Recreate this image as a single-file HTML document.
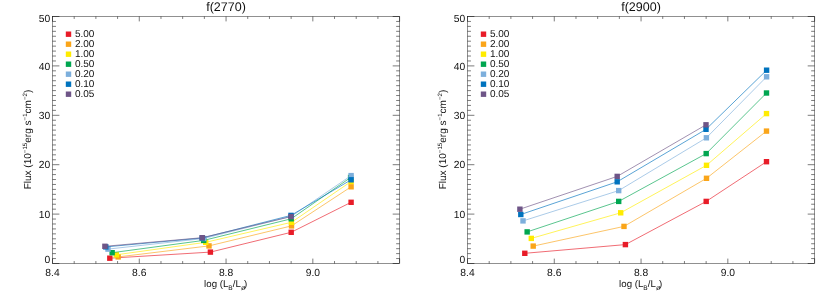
<!DOCTYPE html>
<html><head><meta charset="utf-8"><title>Flux plots</title>
<style>
html,body{margin:0;padding:0;background:#fff;}
body{width:830px;height:297px;overflow:hidden;font-family:"Liberation Sans",sans-serif;}
svg{display:block;will-change:transform;}
text{text-rendering:geometricPrecision;}
</style></head>
<body>
<svg width="830" height="297" viewBox="0 0 830 297">
<rect width="830" height="297" fill="#fff"/>
<g transform="translate(0 0)">
<text x="226.0" y="11.4" font-size="12.5" text-anchor="middle" font-family="Liberation Sans, sans-serif" fill="#111">f(2770)</text>
<rect x="52.50" y="16.50" width="347.10" height="247.00" stroke="#000" stroke-width="0.43" fill="none"/>
<path d="M52.50 263.50v-4.90M52.50 16.50v4.90M74.19 263.50v-2.45M74.19 16.50v2.45M95.89 263.50v-2.45M95.89 16.50v2.45M117.58 263.50v-2.45M117.58 16.50v2.45M139.27 263.50v-4.90M139.27 16.50v4.90M160.97 263.50v-2.45M160.97 16.50v2.45M182.66 263.50v-2.45M182.66 16.50v2.45M204.36 263.50v-2.45M204.36 16.50v2.45M226.05 263.50v-4.90M226.05 16.50v4.90M247.74 263.50v-2.45M247.74 16.50v2.45M269.44 263.50v-2.45M269.44 16.50v2.45M291.13 263.50v-2.45M291.13 16.50v2.45M312.83 263.50v-4.90M312.83 16.50v4.90M334.52 263.50v-2.45M334.52 16.50v2.45M356.21 263.50v-2.45M356.21 16.50v2.45M377.91 263.50v-2.45M377.91 16.50v2.45M399.60 263.50v-4.90M399.60 16.50v4.90M52.50 263.50h6.90M399.60 263.50h-6.90M52.50 258.56h3.45M399.60 258.56h-3.45M52.50 253.62h3.45M399.60 253.62h-3.45M52.50 248.68h3.45M399.60 248.68h-3.45M52.50 243.74h3.45M399.60 243.74h-3.45M52.50 238.80h3.45M399.60 238.80h-3.45M52.50 233.86h3.45M399.60 233.86h-3.45M52.50 228.92h3.45M399.60 228.92h-3.45M52.50 223.98h3.45M399.60 223.98h-3.45M52.50 219.04h3.45M399.60 219.04h-3.45M52.50 214.10h6.90M399.60 214.10h-6.90M52.50 209.16h3.45M399.60 209.16h-3.45M52.50 204.22h3.45M399.60 204.22h-3.45M52.50 199.28h3.45M399.60 199.28h-3.45M52.50 194.34h3.45M399.60 194.34h-3.45M52.50 189.40h3.45M399.60 189.40h-3.45M52.50 184.46h3.45M399.60 184.46h-3.45M52.50 179.52h3.45M399.60 179.52h-3.45M52.50 174.58h3.45M399.60 174.58h-3.45M52.50 169.64h3.45M399.60 169.64h-3.45M52.50 164.70h6.90M399.60 164.70h-6.90M52.50 159.76h3.45M399.60 159.76h-3.45M52.50 154.82h3.45M399.60 154.82h-3.45M52.50 149.88h3.45M399.60 149.88h-3.45M52.50 144.94h3.45M399.60 144.94h-3.45M52.50 140.00h3.45M399.60 140.00h-3.45M52.50 135.06h3.45M399.60 135.06h-3.45M52.50 130.12h3.45M399.60 130.12h-3.45M52.50 125.18h3.45M399.60 125.18h-3.45M52.50 120.24h3.45M399.60 120.24h-3.45M52.50 115.30h6.90M399.60 115.30h-6.90M52.50 110.36h3.45M399.60 110.36h-3.45M52.50 105.42h3.45M399.60 105.42h-3.45M52.50 100.48h3.45M399.60 100.48h-3.45M52.50 95.54h3.45M399.60 95.54h-3.45M52.50 90.60h3.45M399.60 90.60h-3.45M52.50 85.66h3.45M399.60 85.66h-3.45M52.50 80.72h3.45M399.60 80.72h-3.45M52.50 75.78h3.45M399.60 75.78h-3.45M52.50 70.84h3.45M399.60 70.84h-3.45M52.50 65.90h6.90M399.60 65.90h-6.90M52.50 60.96h3.45M399.60 60.96h-3.45M52.50 56.02h3.45M399.60 56.02h-3.45M52.50 51.08h3.45M399.60 51.08h-3.45M52.50 46.14h3.45M399.60 46.14h-3.45M52.50 41.20h3.45M399.60 41.20h-3.45M52.50 36.26h3.45M399.60 36.26h-3.45M52.50 31.32h3.45M399.60 31.32h-3.45M52.50 26.38h3.45M399.60 26.38h-3.45M52.50 21.44h3.45M399.60 21.44h-3.45M52.50 16.50h6.90M399.60 16.50h-6.90" stroke="#000" stroke-width="0.52" fill="none"/>
<text x="52.50" y="276.0" font-size="10.3" text-anchor="middle" font-family="Liberation Sans, sans-serif" fill="#111">8.4</text>
<text x="139.27" y="276.0" font-size="10.3" text-anchor="middle" font-family="Liberation Sans, sans-serif" fill="#111">8.6</text>
<text x="226.05" y="276.0" font-size="10.3" text-anchor="middle" font-family="Liberation Sans, sans-serif" fill="#111">8.8</text>
<text x="312.83" y="276.0" font-size="10.3" text-anchor="middle" font-family="Liberation Sans, sans-serif" fill="#111">9.0</text>
<text x="50.3" y="263.40" font-size="10.3" text-anchor="end" font-family="Liberation Sans, sans-serif" fill="#111">0</text>
<text x="50.3" y="217.80" font-size="10.3" text-anchor="end" font-family="Liberation Sans, sans-serif" fill="#111">10</text>
<text x="50.3" y="168.40" font-size="10.3" text-anchor="end" font-family="Liberation Sans, sans-serif" fill="#111">20</text>
<text x="50.3" y="119.00" font-size="10.3" text-anchor="end" font-family="Liberation Sans, sans-serif" fill="#111">30</text>
<text x="50.3" y="69.60" font-size="10.3" text-anchor="end" font-family="Liberation Sans, sans-serif" fill="#111">40</text>
<text x="50.3" y="22.35" font-size="10.3" text-anchor="end" font-family="Liberation Sans, sans-serif" fill="#111">50</text>
<text x="225.7" y="286.5" font-size="9.7" text-anchor="middle" font-family="Liberation Sans, sans-serif" fill="#111">log (L<tspan font-size="6.6" dy="3.0">B</tspan><tspan dy="-3.0">/L</tspan><tspan font-size="7.2" dy="3.0" dx="0.2">ø</tspan><tspan dy="-3.0" dx="-1.4">)</tspan></text>
<text transform="translate(31.2 139.5) rotate(-90)" font-size="10" text-anchor="middle" font-family="Liberation Sans, sans-serif" fill="#111">Flux (10<tspan font-size="6.2" dy="-4.1">−15</tspan><tspan dy="4.1">erg s</tspan><tspan font-size="6.2" dy="-4.1">−1</tspan><tspan dy="4.1">cm</tspan><tspan font-size="6.2" dy="-4.1">−2</tspan><tspan dy="4.1">)</tspan></text>
<rect x="65.80" y="31.50" width="5.4" height="5.4" fill="#E81C28"/>
<text x="74.9" y="36.60" font-size="10" font-family="Liberation Sans, sans-serif" fill="#111">5.00</text>
<rect x="65.80" y="41.50" width="5.4" height="5.4" fill="#FAA519"/>
<text x="74.9" y="46.60" font-size="10" font-family="Liberation Sans, sans-serif" fill="#111">2.00</text>
<rect x="65.80" y="51.50" width="5.4" height="5.4" fill="#FFEC00"/>
<text x="74.9" y="56.60" font-size="10" font-family="Liberation Sans, sans-serif" fill="#111">1.00</text>
<rect x="65.80" y="61.50" width="5.4" height="5.4" fill="#00A650"/>
<text x="74.9" y="66.60" font-size="10" font-family="Liberation Sans, sans-serif" fill="#111">0.50</text>
<rect x="65.80" y="71.50" width="5.4" height="5.4" fill="#7DAFDC"/>
<text x="74.9" y="76.60" font-size="10" font-family="Liberation Sans, sans-serif" fill="#111">0.20</text>
<rect x="65.80" y="81.50" width="5.4" height="5.4" fill="#0073BE"/>
<text x="74.9" y="86.60" font-size="10" font-family="Liberation Sans, sans-serif" fill="#111">0.10</text>
<rect x="65.80" y="91.50" width="5.4" height="5.4" fill="#6E5587"/>
<text x="74.9" y="96.60" font-size="10" font-family="Liberation Sans, sans-serif" fill="#111">0.05</text>
<polyline points="109.80,258.20 210.40,252.10 291.20,232.30 351.10,202.30" fill="none" stroke="#E81C28" stroke-width="0.65"/>
<rect x="107.10" y="255.50" width="5.4" height="5.4" fill="#E81C28"/>
<rect x="207.70" y="249.40" width="5.4" height="5.4" fill="#E81C28"/>
<rect x="288.50" y="229.60" width="5.4" height="5.4" fill="#E81C28"/>
<rect x="348.40" y="199.60" width="5.4" height="5.4" fill="#E81C28"/>
<polyline points="118.20,256.90 209.00,245.90 291.50,225.90 351.10,186.80" fill="none" stroke="#FAA519" stroke-width="0.65"/>
<rect x="115.50" y="254.20" width="5.4" height="5.4" fill="#FAA519"/>
<rect x="206.30" y="243.20" width="5.4" height="5.4" fill="#FAA519"/>
<rect x="288.80" y="223.20" width="5.4" height="5.4" fill="#FAA519"/>
<rect x="348.40" y="184.10" width="5.4" height="5.4" fill="#FAA519"/>
<polyline points="116.30,254.80 205.70,242.30 291.50,222.30 351.10,181.50" fill="none" stroke="#FFEC00" stroke-width="0.65"/>
<rect x="113.60" y="252.10" width="5.4" height="5.4" fill="#FFEC00"/>
<rect x="203.00" y="239.60" width="5.4" height="5.4" fill="#FFEC00"/>
<rect x="288.80" y="219.60" width="5.4" height="5.4" fill="#FFEC00"/>
<rect x="348.40" y="178.80" width="5.4" height="5.4" fill="#FFEC00"/>
<polyline points="112.15,252.70 203.70,240.40 291.20,218.80 350.60,177.50" fill="none" stroke="#00A650" stroke-width="0.65"/>
<rect x="109.45" y="250.00" width="5.4" height="5.4" fill="#00A650"/>
<rect x="201.00" y="237.70" width="5.4" height="5.4" fill="#00A650"/>
<rect x="288.50" y="216.10" width="5.4" height="5.4" fill="#00A650"/>
<rect x="347.90" y="174.80" width="5.4" height="5.4" fill="#00A650"/>
<polyline points="108.00,249.10 203.70,238.50 291.40,216.30 351.10,175.60" fill="none" stroke="#7DAFDC" stroke-width="0.65"/>
<rect x="105.30" y="246.40" width="5.4" height="5.4" fill="#7DAFDC"/>
<rect x="201.00" y="235.80" width="5.4" height="5.4" fill="#7DAFDC"/>
<rect x="288.70" y="213.60" width="5.4" height="5.4" fill="#7DAFDC"/>
<rect x="348.40" y="172.90" width="5.4" height="5.4" fill="#7DAFDC"/>
<polyline points="105.80,246.90 202.20,238.00 291.00,215.40 351.10,179.80" fill="none" stroke="#0073BE" stroke-width="0.65"/>
<rect x="103.10" y="244.20" width="5.4" height="5.4" fill="#0073BE"/>
<rect x="199.50" y="235.30" width="5.4" height="5.4" fill="#0073BE"/>
<rect x="288.30" y="212.70" width="5.4" height="5.4" fill="#0073BE"/>
<rect x="348.40" y="177.10" width="5.4" height="5.4" fill="#0073BE"/>
<polyline points="104.90,246.30 202.20,237.70 291.00,216.60" fill="none" stroke="#6E5587" stroke-width="0.65"/>
<rect x="102.20" y="243.60" width="5.4" height="5.4" fill="#6E5587"/>
<rect x="199.50" y="235.00" width="5.4" height="5.4" fill="#6E5587"/>
<rect x="288.30" y="213.90" width="5.4" height="5.4" fill="#6E5587"/>
</g>
<g transform="translate(415 0)">
<text x="226.0" y="11.4" font-size="12.5" text-anchor="middle" font-family="Liberation Sans, sans-serif" fill="#111">f(2900)</text>
<rect x="52.50" y="16.50" width="347.10" height="247.00" stroke="#000" stroke-width="0.43" fill="none"/>
<path d="M52.50 263.50v-4.90M52.50 16.50v4.90M74.19 263.50v-2.45M74.19 16.50v2.45M95.89 263.50v-2.45M95.89 16.50v2.45M117.58 263.50v-2.45M117.58 16.50v2.45M139.27 263.50v-4.90M139.27 16.50v4.90M160.97 263.50v-2.45M160.97 16.50v2.45M182.66 263.50v-2.45M182.66 16.50v2.45M204.36 263.50v-2.45M204.36 16.50v2.45M226.05 263.50v-4.90M226.05 16.50v4.90M247.74 263.50v-2.45M247.74 16.50v2.45M269.44 263.50v-2.45M269.44 16.50v2.45M291.13 263.50v-2.45M291.13 16.50v2.45M312.83 263.50v-4.90M312.83 16.50v4.90M334.52 263.50v-2.45M334.52 16.50v2.45M356.21 263.50v-2.45M356.21 16.50v2.45M377.91 263.50v-2.45M377.91 16.50v2.45M399.60 263.50v-4.90M399.60 16.50v4.90M52.50 263.50h6.90M399.60 263.50h-6.90M52.50 258.56h3.45M399.60 258.56h-3.45M52.50 253.62h3.45M399.60 253.62h-3.45M52.50 248.68h3.45M399.60 248.68h-3.45M52.50 243.74h3.45M399.60 243.74h-3.45M52.50 238.80h3.45M399.60 238.80h-3.45M52.50 233.86h3.45M399.60 233.86h-3.45M52.50 228.92h3.45M399.60 228.92h-3.45M52.50 223.98h3.45M399.60 223.98h-3.45M52.50 219.04h3.45M399.60 219.04h-3.45M52.50 214.10h6.90M399.60 214.10h-6.90M52.50 209.16h3.45M399.60 209.16h-3.45M52.50 204.22h3.45M399.60 204.22h-3.45M52.50 199.28h3.45M399.60 199.28h-3.45M52.50 194.34h3.45M399.60 194.34h-3.45M52.50 189.40h3.45M399.60 189.40h-3.45M52.50 184.46h3.45M399.60 184.46h-3.45M52.50 179.52h3.45M399.60 179.52h-3.45M52.50 174.58h3.45M399.60 174.58h-3.45M52.50 169.64h3.45M399.60 169.64h-3.45M52.50 164.70h6.90M399.60 164.70h-6.90M52.50 159.76h3.45M399.60 159.76h-3.45M52.50 154.82h3.45M399.60 154.82h-3.45M52.50 149.88h3.45M399.60 149.88h-3.45M52.50 144.94h3.45M399.60 144.94h-3.45M52.50 140.00h3.45M399.60 140.00h-3.45M52.50 135.06h3.45M399.60 135.06h-3.45M52.50 130.12h3.45M399.60 130.12h-3.45M52.50 125.18h3.45M399.60 125.18h-3.45M52.50 120.24h3.45M399.60 120.24h-3.45M52.50 115.30h6.90M399.60 115.30h-6.90M52.50 110.36h3.45M399.60 110.36h-3.45M52.50 105.42h3.45M399.60 105.42h-3.45M52.50 100.48h3.45M399.60 100.48h-3.45M52.50 95.54h3.45M399.60 95.54h-3.45M52.50 90.60h3.45M399.60 90.60h-3.45M52.50 85.66h3.45M399.60 85.66h-3.45M52.50 80.72h3.45M399.60 80.72h-3.45M52.50 75.78h3.45M399.60 75.78h-3.45M52.50 70.84h3.45M399.60 70.84h-3.45M52.50 65.90h6.90M399.60 65.90h-6.90M52.50 60.96h3.45M399.60 60.96h-3.45M52.50 56.02h3.45M399.60 56.02h-3.45M52.50 51.08h3.45M399.60 51.08h-3.45M52.50 46.14h3.45M399.60 46.14h-3.45M52.50 41.20h3.45M399.60 41.20h-3.45M52.50 36.26h3.45M399.60 36.26h-3.45M52.50 31.32h3.45M399.60 31.32h-3.45M52.50 26.38h3.45M399.60 26.38h-3.45M52.50 21.44h3.45M399.60 21.44h-3.45M52.50 16.50h6.90M399.60 16.50h-6.90" stroke="#000" stroke-width="0.52" fill="none"/>
<text x="52.50" y="276.0" font-size="10.3" text-anchor="middle" font-family="Liberation Sans, sans-serif" fill="#111">8.4</text>
<text x="139.27" y="276.0" font-size="10.3" text-anchor="middle" font-family="Liberation Sans, sans-serif" fill="#111">8.6</text>
<text x="226.05" y="276.0" font-size="10.3" text-anchor="middle" font-family="Liberation Sans, sans-serif" fill="#111">8.8</text>
<text x="312.83" y="276.0" font-size="10.3" text-anchor="middle" font-family="Liberation Sans, sans-serif" fill="#111">9.0</text>
<text x="50.3" y="263.40" font-size="10.3" text-anchor="end" font-family="Liberation Sans, sans-serif" fill="#111">0</text>
<text x="50.3" y="217.80" font-size="10.3" text-anchor="end" font-family="Liberation Sans, sans-serif" fill="#111">10</text>
<text x="50.3" y="168.40" font-size="10.3" text-anchor="end" font-family="Liberation Sans, sans-serif" fill="#111">20</text>
<text x="50.3" y="119.00" font-size="10.3" text-anchor="end" font-family="Liberation Sans, sans-serif" fill="#111">30</text>
<text x="50.3" y="69.60" font-size="10.3" text-anchor="end" font-family="Liberation Sans, sans-serif" fill="#111">40</text>
<text x="50.3" y="22.35" font-size="10.3" text-anchor="end" font-family="Liberation Sans, sans-serif" fill="#111">50</text>
<text x="225.7" y="286.5" font-size="9.7" text-anchor="middle" font-family="Liberation Sans, sans-serif" fill="#111">log (L<tspan font-size="6.6" dy="3.0">B</tspan><tspan dy="-3.0">/L</tspan><tspan font-size="7.2" dy="3.0" dx="0.2">ø</tspan><tspan dy="-3.0" dx="-1.4">)</tspan></text>
<text transform="translate(31.2 139.5) rotate(-90)" font-size="10" text-anchor="middle" font-family="Liberation Sans, sans-serif" fill="#111">Flux (10<tspan font-size="6.2" dy="-4.1">−15</tspan><tspan dy="4.1">erg s</tspan><tspan font-size="6.2" dy="-4.1">−1</tspan><tspan dy="4.1">cm</tspan><tspan font-size="6.2" dy="-4.1">−2</tspan><tspan dy="4.1">)</tspan></text>
<rect x="65.80" y="31.50" width="5.4" height="5.4" fill="#E81C28"/>
<text x="74.9" y="36.60" font-size="10" font-family="Liberation Sans, sans-serif" fill="#111">5.00</text>
<rect x="65.80" y="41.50" width="5.4" height="5.4" fill="#FAA519"/>
<text x="74.9" y="46.60" font-size="10" font-family="Liberation Sans, sans-serif" fill="#111">2.00</text>
<rect x="65.80" y="51.50" width="5.4" height="5.4" fill="#FFEC00"/>
<text x="74.9" y="56.60" font-size="10" font-family="Liberation Sans, sans-serif" fill="#111">1.00</text>
<rect x="65.80" y="61.50" width="5.4" height="5.4" fill="#00A650"/>
<text x="74.9" y="66.60" font-size="10" font-family="Liberation Sans, sans-serif" fill="#111">0.50</text>
<rect x="65.80" y="71.50" width="5.4" height="5.4" fill="#7DAFDC"/>
<text x="74.9" y="76.60" font-size="10" font-family="Liberation Sans, sans-serif" fill="#111">0.20</text>
<rect x="65.80" y="81.50" width="5.4" height="5.4" fill="#0073BE"/>
<text x="74.9" y="86.60" font-size="10" font-family="Liberation Sans, sans-serif" fill="#111">0.10</text>
<rect x="65.80" y="91.50" width="5.4" height="5.4" fill="#6E5587"/>
<text x="74.9" y="96.60" font-size="10" font-family="Liberation Sans, sans-serif" fill="#111">0.05</text>
<polyline points="109.80,253.30 210.40,244.60 291.20,201.40 351.50,161.70" fill="none" stroke="#E81C28" stroke-width="0.65"/>
<rect x="107.10" y="250.60" width="5.4" height="5.4" fill="#E81C28"/>
<rect x="207.70" y="241.90" width="5.4" height="5.4" fill="#E81C28"/>
<rect x="288.50" y="198.70" width="5.4" height="5.4" fill="#E81C28"/>
<rect x="348.80" y="159.00" width="5.4" height="5.4" fill="#E81C28"/>
<polyline points="118.20,246.10 209.00,226.40 291.50,178.30 351.50,131.10" fill="none" stroke="#FAA519" stroke-width="0.65"/>
<rect x="115.50" y="243.40" width="5.4" height="5.4" fill="#FAA519"/>
<rect x="206.30" y="223.70" width="5.4" height="5.4" fill="#FAA519"/>
<rect x="288.80" y="175.60" width="5.4" height="5.4" fill="#FAA519"/>
<rect x="348.80" y="128.40" width="5.4" height="5.4" fill="#FAA519"/>
<polyline points="116.30,238.40 205.70,212.80 291.50,165.30 351.50,113.60" fill="none" stroke="#FFEC00" stroke-width="0.65"/>
<rect x="113.60" y="235.70" width="5.4" height="5.4" fill="#FFEC00"/>
<rect x="203.00" y="210.10" width="5.4" height="5.4" fill="#FFEC00"/>
<rect x="288.80" y="162.60" width="5.4" height="5.4" fill="#FFEC00"/>
<rect x="348.80" y="110.90" width="5.4" height="5.4" fill="#FFEC00"/>
<polyline points="112.15,231.90 203.70,201.40 291.20,153.60 351.50,93.00" fill="none" stroke="#00A650" stroke-width="0.65"/>
<rect x="109.45" y="229.20" width="5.4" height="5.4" fill="#00A650"/>
<rect x="201.00" y="198.70" width="5.4" height="5.4" fill="#00A650"/>
<rect x="288.50" y="150.90" width="5.4" height="5.4" fill="#00A650"/>
<rect x="348.80" y="90.30" width="5.4" height="5.4" fill="#00A650"/>
<polyline points="108.00,220.90 203.70,190.60 291.40,137.80 351.60,76.80" fill="none" stroke="#7DAFDC" stroke-width="0.65"/>
<rect x="105.30" y="218.20" width="5.4" height="5.4" fill="#7DAFDC"/>
<rect x="201.00" y="187.90" width="5.4" height="5.4" fill="#7DAFDC"/>
<rect x="288.70" y="135.10" width="5.4" height="5.4" fill="#7DAFDC"/>
<rect x="348.90" y="74.10" width="5.4" height="5.4" fill="#7DAFDC"/>
<polyline points="105.80,214.50 202.20,181.80 291.00,129.30 351.60,70.20" fill="none" stroke="#0073BE" stroke-width="0.65"/>
<rect x="103.10" y="211.80" width="5.4" height="5.4" fill="#0073BE"/>
<rect x="199.50" y="179.10" width="5.4" height="5.4" fill="#0073BE"/>
<rect x="288.30" y="126.60" width="5.4" height="5.4" fill="#0073BE"/>
<rect x="348.90" y="67.50" width="5.4" height="5.4" fill="#0073BE"/>
<polyline points="104.90,209.20 202.20,176.40 291.00,124.80" fill="none" stroke="#6E5587" stroke-width="0.65"/>
<rect x="102.20" y="206.50" width="5.4" height="5.4" fill="#6E5587"/>
<rect x="199.50" y="173.70" width="5.4" height="5.4" fill="#6E5587"/>
<rect x="288.30" y="122.10" width="5.4" height="5.4" fill="#6E5587"/>
</g>
</svg>
</body></html>
